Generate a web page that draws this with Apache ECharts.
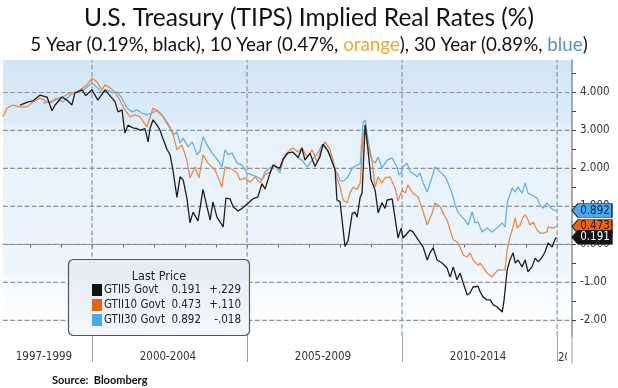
<!DOCTYPE html>
<html><head><meta charset="utf-8">
<script src="https://cdn.jsdelivr.net/npm/echarts@6/dist/echarts.min.js"></script>
<style>html,body{margin:0;padding:0;background:#fff}#c{width:618px;height:388px}</style>
</head><body><div id="c"></div>
<script>
// ---- data (decimal year, real yield %) ----
const fiveYear = [[1997.68,3.67],[1997.94,3.75],[1998.10,3.78],[1998.32,3.93],[1998.55,3.88],[1998.71,3.52],[1998.81,3.67],[1999.03,3.88],[1999.19,3.80],[1999.35,3.67],[1999.45,3.99],[1999.68,4.07],[1999.80,3.92],[2000.00,4.07],[2000.19,3.80],[2000.42,4.07],[2000.74,3.76],[2000.84,3.49],[2000.97,3.54],[2001.06,2.93],[2001.16,3.14],[2001.32,3.07],[2001.45,3.05],[2001.55,3.01],[2001.71,3.05],[2001.81,2.70],[2001.87,3.05],[2001.97,3.28],[2002.10,3.14],[2002.19,3.01],[2002.26,2.85],[2002.42,2.50],[2002.52,2.36],[2002.61,1.96],[2002.74,1.24],[2002.84,1.78],[2002.94,1.70],[2003.06,1.22],[2003.16,0.57],[2003.26,0.85],[2003.42,0.62],[2003.58,1.45],[2003.71,0.99],[2003.81,0.64],[2003.90,1.12],[2004.03,0.72],[2004.23,0.46],[2004.32,1.22],[2004.45,1.20],[2004.55,0.99],[2004.71,0.88],[2004.84,0.95],[2005.00,1.06],[2005.19,1.20],[2005.35,1.25],[2005.48,1.60],[2005.58,1.46],[2005.74,1.87],[2005.84,2.09],[2005.97,2.03],[2006.06,2.01],[2006.16,2.25],[2006.32,2.41],[2006.48,2.43],[2006.65,2.29],[2006.77,2.54],[2006.87,2.22],[2007.03,2.40],[2007.19,2.05],[2007.35,2.30],[2007.45,2.64],[2007.61,2.46],[2007.74,2.18],[2007.84,1.96],[2007.90,1.17],[2008.00,1.12],[2008.16,-0.05],[2008.26,0.10],[2008.39,0.81],[2008.48,0.85],[2008.55,0.72],[2008.65,1.25],[2008.71,1.35],[2008.81,3.15],[2008.90,2.50],[2009.00,1.70],[2009.13,1.43],[2009.23,0.83],[2009.35,1.10],[2009.45,0.95],[2009.52,1.17],[2009.68,1.20],[2009.77,0.72],[2009.87,0.17],[2009.97,0.43],[2010.03,0.17],[2010.26,0.38],[2010.35,0.33],[2010.52,0.12],[2010.68,-0.07],[2010.81,-0.41],[2010.90,-0.22],[2011.00,-0.09],[2011.13,-0.41],[2011.29,-0.49],[2011.45,-0.62],[2011.55,-0.86],[2011.65,-0.59],[2011.77,-0.93],[2011.87,-0.75],[2011.97,-1.01],[2012.10,-1.33],[2012.19,-1.28],[2012.29,-1.12],[2012.45,-1.10],[2012.52,-1.25],[2012.61,-1.38],[2012.74,-1.46],[2012.84,-1.46],[2012.94,-1.59],[2013.06,-1.64],[2013.16,-1.72],[2013.23,-1.78],[2013.29,-1.46],[2013.39,-0.67],[2013.48,-0.41],[2013.58,-0.22],[2013.65,-0.49],[2013.74,-0.41],[2013.87,-0.59],[2013.97,-0.41],[2014.06,-0.72],[2014.19,-0.59],[2014.29,-0.36],[2014.39,-0.46],[2014.52,-0.33],[2014.61,-0.20],[2014.71,0.04],[2014.84,-0.07],[2014.90,0.07],[2014.97,0.19]];

const tenYear = [[1997.13,3.36],[1997.26,3.59],[1997.45,3.67],[1997.68,3.62],[1997.90,3.62],[1998.10,3.75],[1998.32,3.85],[1998.65,3.72],[1998.90,3.85],[1999.06,3.88],[1999.29,3.99],[1999.52,4.01],[1999.84,4.20],[2000.00,4.38],[2000.16,4.28],[2000.32,4.07],[2000.42,4.20],[2000.58,4.12],[2000.74,4.01],[2000.90,3.80],[2001.06,3.54],[2001.23,3.36],[2001.39,3.41],[2001.55,3.36],[2001.77,3.09],[2001.97,3.59],[2002.13,3.49],[2002.29,3.36],[2002.45,3.14],[2002.61,2.93],[2002.74,2.49],[2002.90,2.62],[2003.06,2.22],[2003.16,1.75],[2003.32,2.04],[2003.45,1.75],[2003.58,2.36],[2003.74,2.14],[2003.97,1.96],[2004.19,1.51],[2004.29,2.04],[2004.45,2.01],[2004.68,1.88],[2004.77,1.70],[2004.94,1.75],[2005.10,1.64],[2005.26,1.78],[2005.42,1.62],[2005.58,1.83],[2005.74,1.91],[2005.90,2.09],[2006.06,1.96],[2006.23,2.36],[2006.39,2.49],[2006.48,2.54],[2006.65,2.43],[2006.77,2.54],[2006.94,2.30],[2007.10,2.49],[2007.26,2.17],[2007.42,2.57],[2007.52,2.70],[2007.68,2.49],[2007.77,2.22],[2007.90,1.75],[2008.00,1.51],[2008.10,1.17],[2008.23,1.09],[2008.32,1.35],[2008.42,1.51],[2008.55,1.45],[2008.65,1.62],[2008.74,2.83],[2008.81,3.14],[2008.90,2.57],[2009.03,2.22],[2009.13,1.51],[2009.23,1.78],[2009.35,1.62],[2009.45,1.75],[2009.61,1.78],[2009.77,1.49],[2009.87,1.15],[2010.00,1.43],[2010.10,1.35],[2010.19,1.57],[2010.35,1.35],[2010.52,1.25],[2010.68,0.86],[2010.81,0.51],[2010.97,0.83],[2011.06,1.09],[2011.23,0.99],[2011.32,0.83],[2011.45,0.64],[2011.55,0.38],[2011.65,0.12],[2011.77,0.07],[2011.87,-0.07],[2011.97,-0.28],[2012.10,-0.33],[2012.19,-0.22],[2012.29,-0.41],[2012.45,-0.55],[2012.52,-0.49],[2012.74,-0.75],[2012.90,-0.86],[2013.00,-0.75],[2013.10,-0.67],[2013.23,-0.67],[2013.32,-0.67],[2013.39,-0.14],[2013.48,0.20],[2013.58,0.46],[2013.65,0.70],[2013.71,0.43],[2013.81,0.51],[2013.90,0.72],[2013.97,0.78],[2014.03,0.70],[2014.13,0.51],[2014.23,0.59],[2014.35,0.38],[2014.45,0.30],[2014.55,0.30],[2014.68,0.33],[2014.71,0.46],[2014.84,0.43],[2014.90,0.38],[2014.97,0.47]];

const thirtyYear = [[1998.42,3.72],[1998.65,3.75],[1998.87,3.85],[1999.06,3.75],[1999.19,3.85],[1999.39,3.99],[1999.61,4.01],[1999.84,4.14],[2000.00,4.25],[2000.16,4.14],[2000.32,3.99],[2000.48,4.07],[2000.65,3.99],[2000.81,4.01],[2000.97,3.85],[2001.13,3.59],[2001.29,3.49],[2001.45,3.54],[2001.61,3.46],[2001.77,3.41],[2001.94,3.46],[2002.10,3.54],[2002.26,3.41],[2002.42,3.22],[2002.52,3.09],[2002.61,2.88],[2002.74,2.96],[2002.84,2.67],[2002.94,2.80],[2003.10,2.57],[2003.23,2.70],[2003.39,2.36],[2003.48,2.45],[2003.58,2.83],[2003.71,2.62],[2003.87,2.41],[2004.06,2.22],[2004.19,2.04],[2004.29,2.49],[2004.39,2.36],[2004.52,2.41],[2004.68,2.14],[2004.84,2.09],[2005.00,1.88],[2005.16,1.83],[2005.32,1.78],[2005.48,1.70],[2005.58,1.91],[2005.74,2.01],[2005.90,2.09],[2006.06,1.88],[2006.16,2.22],[2006.32,2.41],[2006.48,2.43],[2006.65,2.28],[2006.77,2.22],[2006.94,2.04],[2007.10,2.22],[2007.29,2.41],[2007.42,2.62],[2007.58,2.49],[2007.74,2.30],[2007.84,1.96],[2007.94,1.83],[2008.00,1.68],[2008.10,1.66],[2008.26,1.78],[2008.39,2.01],[2008.55,2.09],[2008.65,2.12],[2008.74,3.22],[2008.81,3.28],[2008.90,2.75],[2009.03,2.22],[2009.13,2.14],[2009.23,2.30],[2009.35,2.01],[2009.52,2.22],[2009.68,2.28],[2009.84,2.04],[2009.90,1.83],[2009.97,1.88],[2010.03,2.04],[2010.16,2.14],[2010.26,1.91],[2010.35,1.88],[2010.48,1.78],[2010.58,1.88],[2010.68,1.62],[2010.81,1.38],[2010.97,1.78],[2011.06,2.04],[2011.23,1.91],[2011.39,1.78],[2011.48,1.62],[2011.61,1.35],[2011.71,1.04],[2011.81,0.83],[2011.94,0.72],[2012.03,0.64],[2012.13,0.51],[2012.26,0.86],[2012.35,0.57],[2012.45,0.59],[2012.58,0.33],[2012.74,0.43],[2012.90,0.33],[2013.06,0.43],[2013.23,0.57],[2013.32,0.46],[2013.39,1.09],[2013.55,1.49],[2013.65,1.38],[2013.74,1.51],[2013.87,1.35],[2013.97,1.62],[2014.06,1.35],[2014.19,1.30],[2014.35,1.22],[2014.45,1.04],[2014.55,0.96],[2014.68,1.09],[2014.77,0.99],[2014.87,0.91],[2014.97,0.89]];

const legendNames = ['GTII5 Govt', 'GTII10 Govt', 'GTII30 Govt'];
const lastPrices = [0.191, 0.473, 0.892];
const netChanges = ['+.229', '+.110', '-.018'];

const yTickValues = [-2, -1, 0, 1, 2, 3, 4];
const yTickLabels = ['-2.00', '-1.00', '0.000', '1.000', '2.000', '3.000', '4.000'];
const yMinorTicks = [-2, -1.5, -1, -0.5, 0, 0.5, 1, 1.5, 2, 2.5, 3, 3.5, 4, 4.5];
const yearTicks = [1998, 1999, 2000, 2001, 2002, 2003, 2004, 2005, 2006, 2007, 2008, 2009, 2010, 2011, 2012, 2013, 2014, 2015];
const periodBounds = [2000, 2005, 2010, 2015];
const periodCenters = [1998.45, 2002.45, 2007.45, 2012.45];
const periodLabels = ['1997-1999', '2000-2004', '2005-2009', '2010-2014'];

// ---- chart ----
const X_MIN = 1997.13, X_MAX = 2015.48, Y_MIN = -2.41, Y_MAX = 4.855;
const FONT = '"DejaVu Sans Condensed", "DejaVu Sans", sans-serif';
const chart = echarts.init(document.getElementById('c'));

function tag(color, textColor, value) {
  return {
    silent: true,
    symbol: 'path://M0,7L6,0L40,0L40,14L6,14Z',
    symbolSize: [40, 14],
    symbolOffset: [20, 0],
    symbolKeepAspect: false,
    itemStyle: { color: color, borderColor: '#1a1a1a', borderWidth: 0.8 },
    label: { show: true, position: 'inside', offset: [3, 0], color: textColor,
      fontSize: 11.5, fontFamily: FONT, formatter: () => value.toFixed(3) },
    data: [{ coord: [X_MAX, value] }]
  };
}

function lineSeries(name, data, color, last, tagColor, tagText) {
  return {
    name, type: 'line', data, showSymbol: false, symbol: 'none', z: 3,
    lineStyle: { color, width: 1.3 }, animation: false,
    markPoint: tag(tagColor, tagText, last)
  };
}

const gridStyle = { color: '#8d949c', type: 'dashed', dashOffset: 0, width: 1.2 };
const gridSeries = yTickValues.map(v => ({
  type: 'line', silent: true, z: 1, symbol: 'none', showSymbol: false, animation: false,
  lineStyle: gridStyle, data: [[X_MIN, v], [X_MAX, v]]
})).concat(periodBounds.map(v => ({
  type: 'line', silent: true, z: 1, symbol: 'none', showSymbol: false, animation: false,
  lineStyle: gridStyle, data: [[v, Y_MIN], [v, Y_MAX]]
})));

chart.setOption({
  animation: false,
  title: {
    text: 'U.S. Treasury (TIPS) Implied Real Rates (%)',
    subtext: '5 Year (0.19%, black), 10 Year (0.47%, {o|orange}), 30 Year (0.89%, {b|blue})',
    left: 'center', top: 1, itemGap: 4,
    textStyle: { fontFamily: 'Lato', fontSize: 24.5, fontWeight: 'normal', color: '#111' },
    subtextStyle: { fontFamily: 'Lato', fontSize: 18.8, color: '#111',
      rich: { o: { color: '#f0a830', fontFamily: 'Lato', fontSize: 18.8 },
              b: { color: '#5b8fc7', fontFamily: 'Lato', fontSize: 18.8 } } }
  },
  grid: {
    left: 3, right: 46, top: 60, bottom: 52, show: true, borderWidth: 0,
    backgroundColor: new echarts.graphic.LinearGradient(0, 0, 0, 1, [
      { offset: 0, color: '#d3e6f6' }, { offset: 0.228, color: '#dbebf8' },
      { offset: 0.232, color: '#e5f1fb' }, { offset: 0.78, color: '#eef6fd' },
      { offset: 0.80, color: '#f7fbfe' }, { offset: 1, color: '#ffffff' }])
  },
  xAxis: [{
    type: 'value', min: X_MIN, max: X_MAX, position: 'bottom',
    axisLine: { show: true, lineStyle: { color: '#8a9096', width: 1 } },
    axisTick: { show: true, customValues: yearTicks, length: 3, lineStyle: { color: '#666' } },
    axisLabel: { customValues: periodCenters, margin: 15, color: '#333', fontSize: 11.5, fontFamily: FONT,
      formatter: v => periodLabels[periodCenters.indexOf(v)] },
    splitLine: { show: false }
  }, {
    type: 'value', min: X_MIN, max: X_MAX, position: 'bottom',
    axisLine: { show: false },
    axisTick: { show: true, customValues: periodBounds, length: 26, lineStyle: { color: '#9aa0a6' } },
    axisLabel: { show: false }, splitLine: { show: false }
  }],
  yAxis: {
    type: 'value', min: Y_MIN, max: Y_MAX, position: 'right',
    axisLine: { show: true, lineStyle: { color: '#8a9096', width: 1.5 } },
    axisTick: { show: true, customValues: yMinorTicks, length: 4, lineStyle: { color: '#444' } },
    axisLabel: { customValues: yTickValues, margin: 8, color: '#333', fontSize: 11.5, fontFamily: FONT,
      formatter: v => yTickLabels[yTickValues.indexOf(v)] },
    splitLine: { show: false }
  },
  series: gridSeries.concat([
    lineSeries('30 Year', thirtyYear, '#68b0e2', lastPrices[2], '#4aa8ee', '#10243a'),
    lineSeries('10 Year', tenYear, '#ee8a42', lastPrices[1], '#e8620f', '#2a1200'),
    lineSeries('5 Year', fiveYear, '#1e1e1e', lastPrices[0], '#141414', '#ffffff')
  ]),
  graphic: [
    { type: 'rect', shape: { x: 68.5, y: 259.5, width: 181, height: 76, r: 5 }, z: 10,
      style: { fill: new echarts.graphic.LinearGradient(0, 0, 0, 1, [
        { offset: 0, color: '#e3ebf3' }, { offset: 1, color: '#f5f8fb' }]), stroke: '#555', lineWidth: 1.2 } },
    { type: 'text', x: 159, y: 277, z: 11, style: { text: 'Last Price', fill: '#222',
      font: '12.5px ' + FONT, textAlign: 'center', textVerticalAlign: 'middle' } },
    ...[0, 1, 2].flatMap(i => {
      const y = 290 + i * 15;
      const col = ['#111111', '#e8620f', '#4aa8ee'][i];
      return [
        { type: 'rect', shape: { x: 92, y: y - 6, width: 10, height: 12 }, z: 11, style: { fill: col } },
        { type: 'text', x: 104, y, z: 11, style: { text: legendNames[i], fill: '#222', font: '11.5px ' + FONT, textVerticalAlign: 'middle' } },
        { type: 'text', x: 201, y, z: 11, style: { text: lastPrices[i].toFixed(3), fill: '#222', font: '11.5px ' + FONT, textAlign: 'right', textVerticalAlign: 'middle' } },
        { type: 'text', x: 241, y, z: 11, style: { text: netChanges[i], fill: '#222', font: '11.5px ' + FONT, textAlign: 'right', textVerticalAlign: 'middle' } }
      ];
    }),
    { type: 'text', x: 558, y: 358, z: 10, style: { text: '2015-2019', fill: '#333', font: '11.5px ' + FONT, textVerticalAlign: 'middle' } },
    { type: 'rect', shape: { x: 567, y: 340, width: 51, height: 30 }, z: 11, style: { fill: '#ffffff' } },
    { type: 'line', shape: { x1: 572, y1: 336, x2: 572, y2: 364 }, z: 12, style: { stroke: '#9aa0a6', lineWidth: 1 } },
    { type: 'text', x: 52, y: 380, z: 10, style: { text: 'Source:  Bloomberg', fill: '#111', font: 'bold 11px Lato', textVerticalAlign: 'middle' } }
  ]
});
</script></body></html>
